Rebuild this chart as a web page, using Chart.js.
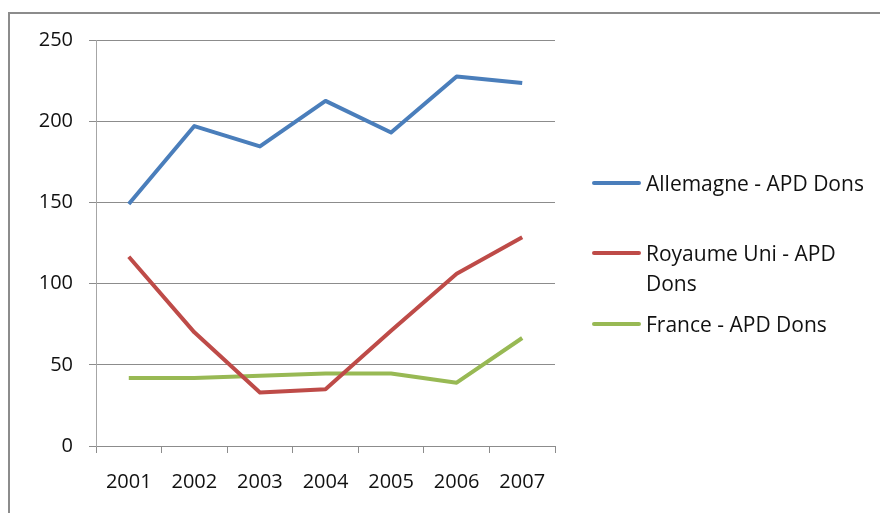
<!DOCTYPE html>
<html>
<head>
<meta charset="utf-8">
<script src="https://cdn.jsdelivr.net/npm/chart.js@4"></script>
<style>
  html, body { margin: 0; padding: 0; background: #fff; overflow: hidden; }
  #wrap { position: relative; width: 880px; height: 513px; }
  #frame { position: absolute; left: 8px; top: 12px; width: 900px; height: 600px;
           border-left: 2px solid #8c8c8c; border-top: 2px solid #8c8c8c; box-sizing: border-box; }
  #myChart { position: absolute; left: 0; top: 0; }
  #legende { position: absolute; left: 592px; top: 168px; font-family: "Open Sans", sans-serif;
             font-size: 21px; color: #111; line-height: 30px; }
  .item { display: flex; align-items: flex-start; }
  .item:nth-child(2) { margin-top: 40px; }
  .item:nth-child(3) { margin-top: 11px; }
  .trait { width: 49px; height: 4px; margin-top: 13px; margin-right: 5px; border-radius: 2px; flex: none; }
  .texte { width: 228px; }
</style>
</head>
<body>
<div id="wrap">
  <div id="frame"></div>
  <canvas id="myChart" width="880" height="513"></canvas>
  <div id="legende"></div>
</div>
<script>
const annees = ['2001', '2002', '2003', '2004', '2005', '2006', '2007'];
const allemagne = [149, 197, 184.5, 212.5, 193, 227.5, 223.5];
const royaumeUni = [116.5, 70, 33, 35, 71, 106, 128.5];
const france = [41.8, 41.9, 43.3, 44.7, 44.7, 39, 66.5];

const series = [
    { label: 'Allemagne - APD Dons', data: allemagne, color: '#4a7ebb' },
    { label: 'Royaume Uni - APD Dons', data: royaumeUni, color: '#be4b48' },
    { label: 'France - APD Dons', data: france, color: '#98b954' }
];

const police = { family: '"Open Sans", sans-serif', size: 20 };

const data = {
    labels: annees,
    datasets: series.map(s => ({
        label: s.label,
        data: s.data,
        fill: false,
        borderColor: s.color,
        borderWidth: 4,
        borderJoinStyle: 'round',
        pointRadius: 0,
        tension: 0
    }))
};

const config = {
    type: 'line',
    data: data,
    options: {
        responsive: false,
        animation: false,
        layout: { padding: { left: 0, right: 325, top: 40, bottom: 0 } },
        plugins: { legend: { display: false }, tooltip: { enabled: false } },
        scales: {
            x: {
                offset: true,
                grid: { drawOnChartArea: false, drawTicks: true, tickLength: 7, color: '#8c8c8c', offset: true },
                border: { color: '#8c8c8c', width: 1 },
                ticks: { color: '#111', font: police, padding: 17, maxRotation: 0 },
                afterFit: (scale) => { scale.height = 67; }
            },
            y: {
                min: 0,
                max: 250,
                grid: { color: '#8c8c8c', tickLength: 7, drawTicks: true },
                border: { color: '#a6a6a6', width: 1 },
                ticks: { stepSize: 50, color: '#111', font: police, padding: 16 },
                afterFit: (scale) => { scale.width = 96; }
            }
        }
    }
};

const myChart = new Chart(document.getElementById('myChart'), config);

// légende à droite, construite à partir des séries
const legende = document.getElementById('legende');
series.forEach(s => {
    const item = document.createElement('div');
    item.className = 'item';
    item.innerHTML = '<div class="trait" style="background:' + s.color + '"></div><div class="texte">' + s.label + '</div>';
    legende.appendChild(item);
});
</script>
</body>
</html>
